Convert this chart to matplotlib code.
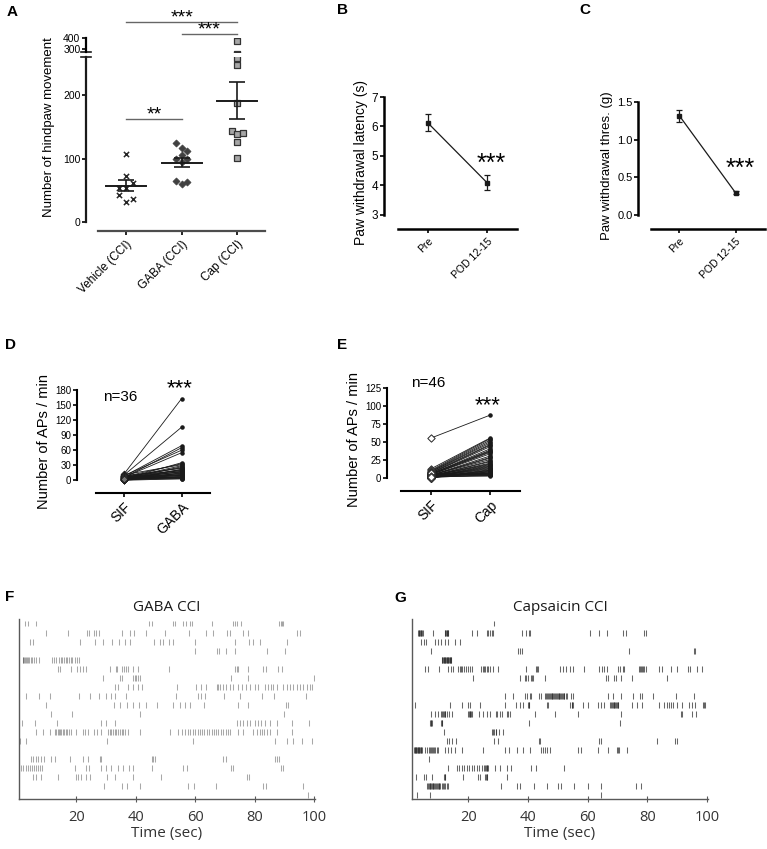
import numpy as np
import matplotlib
matplotlib.use('Agg')
import matplotlib.pyplot as plt

W, H = 767, 849
plt.rcParams['font.family'] = ['Liberation Sans', 'DejaVu Sans']

# ---- panel A: hindpaw movement (broken y axis) ----
a_groups = ['Vehicle (CCI)', 'GABA (CCI)', 'Cap (CCI)']
a_vehicle = [108, 73, 54, 53, 61, 42, 37, 31]
a_gaba = [124, 117, 112, 105, 99, 99, 94, 64, 60, 63]
a_cap = [375, 258, 248, 187, 144, 138, 141, 126, 101]
# horizontal spread of the scatter (category units)
a_vehicle_dx = [0, 0, -0.13, 0, 0.13, -0.13, 0.13, 0]
a_gaba_dx = [-0.11, 0, 0.1, 0, -0.1, 0.1, 0, -0.1, 0, 0.1]
a_cap_dx = [0, 0, 0, 0, -0.1, 0, 0.1, 0, 0]

# ---- panels B, C: behaviour before / after CCI ----
bc_labels = ['Pre', 'POD 12-15']
b_mean = [6.13, 4.08]
b_sem = [0.30, 0.25]
c_mean = [1.32, 0.29]
c_sem = [0.08, 0.02]

# ---- panels D, E: paired AP counts ----
d_labels = ['SIF', 'GABA']
d_sif = [12, 10, 8, 5, 9, 6, 3, 7, 11, 4, 2, 6, 8, 1, 5, 3, 9, 2,
         4, 7, 0, 3, 6, 1, 5, 2, 8, 4, 0, 2, 6, 1, 3, 5, 0, 2]
d_gaba = [163, 106, 69, 65, 60, 55, 35, 33, 31, 29, 27, 25, 24, 22, 21, 20, 19, 18,
          17, 16, 15, 14, 13, 12, 11, 10, 9, 9, 8, 7, 6, 5, 5, 4, 3, 3]
e_labels = ['SIF', 'Cap']
e_sif = [55, 12, 10, 9, 8, 8, 7, 6, 6, 5, 5, 5, 4, 4, 4, 3, 3, 3, 3, 2, 2, 2, 2,
         2, 1, 1, 1, 1, 1, 1, 0, 0, 0, 0, 0, 0, 0, 2, 3, 4, 1, 0, 5, 6, 2, 1]
e_cap = [87, 55, 54, 52, 50, 48, 46, 45, 43, 40, 38, 37, 36, 35, 33, 30, 28, 27, 25,
         23, 22, 20, 19, 18, 17, 16, 15, 14, 13, 12, 11, 10, 10, 9, 8, 8, 7, 6, 6,
         5, 5, 4, 4, 3, 3, 2]

# ---- panels F, G: spike rasters (seconds), one list per unit, top to bottom ----
f_trains = [
    [2.6, 3.7, 6.5, 44.5, 45.3, 52.4, 53.1, 56, 56.9, 58.4, 58.8, 65.5, 72.8, 73.4, 74.2, 75.3, 88.3, 88.8, 89.3, 89.7],
    [9.7, 17.2, 23.6, 24.3, 25.8, 26.7, 27.5, 35.2, 38, 39.4, 43.6, 49.8, 58, 63.5, 66, 70.6, 71.7, 76, 77.9, 94.2, 95.3],
    [4.5, 5.4, 21.1, 26.2, 28.8, 32, 34.3, 36.5, 38, 46, 48.3, 49.2, 51.2, 52.4, 59.9, 73.4, 78.2, 79.6, 81.8, 90.8],
    [59.9, 67.2, 68.1, 70.3, 73.4, 84, 90.2],
    [1.9, 2.2, 2.5, 2.8, 3.1, 3.4, 3.7, 4.1, 4.6, 5.1, 5.7, 6.4, 7.5, 11.8, 12.5, 13.3, 14.0, 14.8, 15.3,
     15.9, 16.4, 17.0, 17.5, 18.1, 18.7, 19.4, 20.2, 21.0],
    [13.8, 14.6, 18.3, 20.2, 21.1, 22.2, 23.1, 31.2, 33.3, 33.8, 35.2, 36, 36.6, 37.4, 38.9, 40.8, 51.2,
     73.4, 73.9, 74.5, 77.9, 82.9, 83.7, 88, 89.1],
    [28.8, 34.6, 35.2, 39.1, 39.7, 40.2, 40.8, 41.3, 72.2, 77.9, 99.8],
    [32.9, 34, 37.4, 39.1, 40.8, 42.2, 53.7, 60.4, 62.1, 63.6, 67.2, 67.8, 68.3, 69.4, 70.3, 71.7, 72.8,
     74.5, 75.6, 77.1, 78.4, 80.1, 81.2, 83.5, 84.6, 85.4, 86.3, 87.4, 89.4, 90.8, 91.9, 93, 94.2, 95.3,
     96.4, 97.5, 98.7, 99.2],
    [3.1, 7.4, 11, 20.8, 24.7, 27.6, 30.1, 31.8, 32.9, 36.6, 53.5, 61, 61.9, 63.3, 69.8, 75.1, 82.4, 86.5, 97.3],
    [9.9, 32.7, 34.6, 36.9, 38.9, 41.1, 43.6, 47, 52.6, 54.8, 56.5, 58.2, 62.9, 74.5, 77.9, 90.6, 91.3],
    [11.6, 18.7, 41.3, 89.9],
    [1.8, 6, 13.5, 28.4, 29.9, 32.9, 73.9, 75, 76.2, 77.3, 78.4, 80.1, 81.2, 82, 83.5, 85.2, 87.6, 92.5, 98.4],
    [6.3, 8.8, 11, 12.7, 13.2, 13.7, 14.1, 14.6, 15, 15.5, 16, 16.5, 17, 17.6, 18.3, 20, 22.2, 23, 24, 26,
     27.1, 28.4, 30.7, 31.3, 31.8, 32.4, 32.9, 33.5, 34, 34.6, 35.2, 35.8, 36.5, 37.4, 41.3, 51.5, 54.3,
     55.5, 56.5, 57.5, 58.4, 59.2, 60, 60.8, 61.6, 62.4, 63.1, 63.9, 64.7, 65.5, 66.3, 67, 67.8, 68.6,
     69.4, 70.3, 71.1, 71.7, 74.5, 76.2, 79.6, 80.7, 81.8, 82.6, 83.3, 84, 85.3, 87.4, 92.5],
    [1.1, 2.9, 30.3, 59.3, 86.9, 91, 93, 95.8, 99.2],
    [],
    [4.8, 5.4, 6.3, 7.1, 8.2, 9, 11.6, 12.7, 17.8, 22.2, 23.9, 27.9, 28.4, 45.3, 45.8, 46.6, 69.4, 70.2,
     86.9, 87.6, 88.3],
    [1.5, 2.2, 2.9, 3.6, 4.3, 5, 5.6, 6.3, 7, 7.7, 8.5, 19.4, 23.1, 24.3, 28.2, 29.9, 31.8, 34, 35.7, 37.8,
     39.1, 45.3, 56, 57.3, 71.9, 72.6, 88.9, 89.7],
    [5.4, 6.5, 8.2, 13.8, 19.8, 20.6, 21.7, 23.1, 24.5, 30.3, 32.9, 39.1, 48.4, 77.3, 78.2],
    [29.2, 35.2, 36.9, 41.3, 57.6, 59.6, 67, 82.9, 83.7, 96.2],
    [97.8],
]
g_trains = [
    [28.7],
    [3.1, 3.4, 3.6, 3.8, 4.0, 4.2, 4.4, 4.7, 8.1, 12.0, 12.2, 12.4, 12.7, 12.9, 13.1, 13.3, 21.3, 22.8,
     26.1, 26.7, 27.3, 27.9, 28.3, 38, 39.4, 40.4, 40.6, 60.9, 63.9, 66.4, 71.7, 72.8, 78.9, 79.4],
    [4.2, 5, 5.9, 8.7, 9.8, 10.9, 12, 13.3, 15.6, 17.2],
    [7.6, 36.7, 37.2, 37.8, 73.9, 95.6, 96.1],
    [11.1, 11.3, 11.5, 11.7, 11.9, 12.1, 12.3, 12.5, 12.7, 12.9, 13.1, 13.3, 13.5, 13.7, 13.9, 14.1, 14.3],
    [5.6, 6.4, 10, 13.3, 14.1, 15, 16.4, 17.2, 17.5, 17.8, 18.4, 19.2, 20, 20.6, 21.3, 24.2, 25, 25.3, 25.6,
     26.1, 26.7, 27.3, 28.3, 29.8, 39.4, 42.8, 43.1, 43.3, 50.6, 51.7, 52.8, 53.9, 55, 58.6, 63.9, 64.7,
     65.6, 66.4, 70, 70.8, 71.7, 72.2, 77.2, 77.5, 77.8, 78.3, 78.6, 78.9, 79.4, 83.9, 85, 87.8, 90,
     93.6, 94.2, 96.7, 98.3],
    [21.7, 37.2, 38.9, 39.4, 40, 41.1, 41.4, 41.7, 45.8, 66.1, 66.7, 68.7, 69.4, 71.1, 74.7, 86.4],
    [],
    [32.2, 35, 38.9, 39.7, 40.6, 41.1, 43.6, 44.4, 45.8, 46.1, 46.4, 46.7, 47, 47.3, 47.6, 47.9, 48.1,
     48.4, 48.7, 49, 49.3, 49.6, 49.9, 50.2, 50.4, 50.7, 51, 51.3, 51.6, 51.9, 52.2, 52.6, 53.1, 54.4,
     55.2, 66.9, 68.3, 71.3, 75, 77.6, 78.3, 82, 89.7, 95.6],
    [2.2, 13.9, 18, 19.8, 20.6, 23.9, 32.2, 36.1, 37.2, 38.3, 40.0, 40.2, 40.4, 46.4, 46.6, 53.9, 54.6,
     54.8, 55, 58.3, 60, 63.3, 64.4, 65.3, 67.6, 67.9, 68.1, 68.4, 68.7, 68.9, 69.2, 69.5, 69.7, 70, 70.3,
     74.7, 76.4, 78.3, 83.9, 85.6, 86.7, 87.2, 87.8, 88.7, 90, 91.7, 93.9, 95, 96.1, 98.6, 98.9, 99.2],
    [7.6, 8.9, 9.8, 10.9, 11.2, 11.5, 11.8, 12, 12.3, 12.8, 13.6, 14.4, 20, 20.2, 20.4, 20.6, 20.8, 21.3,
     23.6, 25, 26.1, 27.2, 29.4, 29.7, 30.6, 31.1, 33.1, 33.4, 33.9, 42.4, 48.9, 56.7, 71.3, 91.3, 91.5,
     95, 96.3],
    [7.1, 7.3, 7.5, 7.8, 10.9, 11.1, 11.3, 40.2, 70.9],
    [11.7, 28, 28.4, 28.7, 29.1, 29.4, 30.2, 31.7],
    [12.8, 13.6, 14.4, 15.8, 28.7, 30, 43.6, 44.1, 63.9, 64.4, 83.1, 89.4, 90],
    [1.8, 2.0, 2.2, 2.4, 2.6, 2.8, 3.0, 3.2, 3.4, 3.6, 3.8, 4.0, 4.2, 4.4, 5.6, 6.1, 6.7, 7.2, 7.5, 7.8,
     8.3, 8.6, 8.9, 9.4, 9.8, 12.2, 13.1, 14.2, 15.6, 17.8, 25, 32.2, 33.6, 36.4, 38.3, 40.6, 44.4, 45,
     45.6, 46.4, 47.2, 56.7, 57.6, 63.3, 66.7, 69.8, 70.2, 70.6, 73.1],
    [6.9],
    [13.3, 16.1, 16.9, 17.8, 18.6, 19.4, 20.3, 21.1, 21.9, 22.8, 23.6, 24.4, 25.3, 25.6, 25.9, 26.1, 26.4,
     26.7, 28.9, 30.6, 32.8, 34.2, 41.1, 42.8, 52.2],
    [2.4, 5, 5.8, 7.8, 11.8, 12, 12.2, 18.3, 23.1, 23.9, 25.6, 25.8, 26.1, 26.3, 32.8],
    [6.1, 6.4, 6.7, 7.0, 7.2, 7.5, 7.8, 8.1, 8.3, 8.6, 8.9, 9.2, 9.4, 9.7, 10, 10.3, 10.6, 11.1, 11.4,
     11.7, 12.2, 12.8, 13.3, 30.9, 36.4, 37.2, 42, 46.4, 50, 50.9, 55.3, 60.2, 64.4, 76.1, 77.8],
    [2.8, 7, 64.4],
]

fig = plt.figure(figsize=(W / 100, H / 100), dpi=100)


def px_axes(x0, y0, x1, y1):
    # axes placed by pixel box (left, top, right, bottom)
    return fig.add_axes([x0 / W, 1 - y1 / H, (x1 - x0) / W, (y1 - y0) / H])


def prism(ax, ybounds, xbounds, lw=1.8):
    for s in ['top', 'right']:
        ax.spines[s].set_visible(False)
    ax.spines['left'].set_bounds(*ybounds)
    ax.spines['bottom'].set_bounds(*xbounds)
    ax.spines['left'].set_linewidth(lw)
    ax.spines['bottom'].set_linewidth(lw)
    ax.tick_params(axis='y', direction='out', length=3, width=1.2, pad=1)
    ax.tick_params(axis='x', direction='out', length=3, width=1.2, pad=2)
    ax.patch.set_alpha(0)


def stars(ax, x, y, s, size, dy=0):
    ax.annotate(s, (x, y), xytext=(0, dy), textcoords='offset points',
                ha='center', va='center', fontsize=size, annotation_clip=False)


# ================= A =================
axA = px_axes(86, 57, 265, 231)
axA2 = px_axes(86, 38, 265, 52)
for ax in (axA, axA2):
    ax.scatter(np.array(a_vehicle_dx) + 0, a_vehicle, marker='x', s=14, color='0.15', lw=1.1, clip_on=True)
    ax.scatter(np.array(a_gaba_dx) + 1, a_gaba, marker='D', s=13, color='0.25', lw=0.5, clip_on=True)
    ax.scatter(np.array(a_cap_dx) + 2, a_cap, marker='s', s=13, facecolor='0.65', edgecolor='0.2', lw=0.9, clip_on=True)
    for i, vals in enumerate([a_vehicle, a_gaba, a_cap]):
        m = np.mean(vals)
        se = np.std(vals, ddof=1) / np.sqrt(len(vals))
        ax.plot([i - 0.36, i + 0.36], [m, m], color='0.1', lw=1.4)
        ax.errorbar(i, m, yerr=se, color='0.1', lw=1.2, capsize=6, capthick=1.2)
    ax.set_xlim(-0.72, 2.5)

axA.set_ylim(-14, 260)
axA2.set_ylim(273, 400)
prism(axA, (0, 260), (-0.5, 2.5), lw=1.6)
axA.spines['left'].set_color('0.1')
axA.spines['bottom'].set_color('0.3')
axA.set_yticks([0, 100, 200])
axA.set_xticks([0, 1, 2])
axA.set_xticklabels(a_groups, rotation=45, ha='right', rotation_mode='anchor', fontsize=8.5)
axA.tick_params(axis='y', labelsize=7.5)
for s in ['top', 'right', 'bottom']:
    axA2.spines[s].set_visible(False)
axA2.spines['left'].set_linewidth(1.6)
axA2.spines['left'].set_bounds(277, 400)
axA2.set_xticks([])
axA2.set_yticks([300, 400])
axA2.tick_params(axis='y', direction='out', length=3, width=1.2, pad=1, labelsize=7.5)
axA2.patch.set_alpha(0)
# axis break marks
for ax, yy in ((axA, 1.0), (axA2, 0.0)):
    ax.plot([-0.03, 0.03], [yy, yy], transform=ax.transAxes, color='0.1', lw=1.2, clip_on=False)
axA.set_ylabel('Number of hindpaw movement', fontsize=9.5, labelpad=4)
axA.yaxis.set_label_coords(-0.175, 0.6)

# significance bars
axA.plot([0, 1], [162, 162], color='0.4', lw=1, clip_on=False)
stars(axA, 0.5, 162, '**', 14, 3)
axA2.plot([1, 2], [436, 436], color='0.4', lw=1, clip_on=False)
stars(axA2, 1.5, 436, '***', 14, 3)
axA2.plot([0, 2], [548, 548], color='0.4', lw=1, clip_on=False)
stars(axA2, 1.0, 548, '***', 14, 3)

# ================= B =================
axB = px_axes(384, 97, 517, 229)
axB.errorbar([0, 1], b_mean, yerr=b_sem, color='0.1', lw=0.9, capsize=2.5, capthick=0.9,
             marker='s', ms=2.5)
axB.set_xlim(-0.73, 1.5)
axB.set_ylim(2.51, 7)
prism(axB, (3, 7), (-0.5, 1.5))
axB.set_yticks([3, 4, 5, 6, 7])
axB.tick_params(axis='y', labelsize=8.5)
axB.set_xticks([0, 1])
axB.set_xticklabels(bc_labels, rotation=45, ha='right', rotation_mode='anchor', fontsize=7.5)
axB.set_ylabel('Paw withdrawal latency (s)', fontsize=10, labelpad=3)
stars(axB, 1.07, 4.81, '***', 18, -2)

# ================= C =================
axC = px_axes(638, 102, 765, 229)
axC.errorbar([0, 1], c_mean, yerr=c_sem, color='0.1', lw=0.9, capsize=2.5, capthick=0.9,
             marker='s', ms=2.5)
axC.set_xlim(-0.73, 1.52)
axC.set_ylim(-0.19, 1.5)
prism(axC, (0, 1.5), (-0.5, 1.52))
axC.set_yticks([0, 0.5, 1.0, 1.5])
axC.set_yticklabels(['0.0', '0.5', '1.0', '1.5'])
axC.tick_params(axis='y', labelsize=8)
axC.set_xticks([0, 1])
axC.set_xticklabels(bc_labels, rotation=45, ha='right', rotation_mode='anchor', fontsize=7.5)
axC.set_ylabel('Paw withdrawal thres. (g)', fontsize=9.5, labelpad=3)
stars(axC, 1.08, 0.65, '***', 18, -2)

# ================= D =================
axD = px_axes(77, 390, 210, 493)
for s0, s1 in zip(d_sif, d_gaba):
    axD.plot([0, 1], [s0, s1], color='0.1', lw=0.6)
axD.scatter(np.zeros(len(d_sif)), d_sif, marker='D', s=12, facecolor='0.45', edgecolor='0.1', lw=0.6, zorder=3, clip_on=False)
axD.scatter(np.ones(len(d_gaba)), d_gaba, marker='o', s=5, color='0.1', zorder=3, clip_on=False)
axD.set_xlim(-0.81, 1.49)
axD.set_ylim(-25.4, 180)
prism(axD, (0, 180), (-0.49, 1.49), lw=1.5)
axD.set_yticks(np.arange(0, 181, 30))
axD.tick_params(axis='y', labelsize=7)
axD.set_xticks([0, 1])
axD.set_xticklabels(d_labels, rotation=45, ha='right', rotation_mode='anchor', fontsize=10)
axD.set_ylabel('Number of APs / min', fontsize=10.5, labelpad=3)
axD.text(-0.07, 167, 'n=36', fontsize=11, ha='center', va='center')
stars(axD, 0.97, 188, '***', 16, -2)

# ================= E =================
axE = px_axes(387, 388, 520, 491)
for s0, s1 in zip(e_sif, e_cap):
    axE.plot([0, 1], [s0, s1], color='0.1', lw=0.6)
axE.scatter(np.zeros(len(e_sif)), e_sif, marker='D', s=14, facecolor='white', edgecolor='0.15', lw=0.7, zorder=3, clip_on=False)
axE.scatter(np.ones(len(e_cap)), e_cap, marker='o', s=5, color='0.1', zorder=3, clip_on=False)
axE.set_xlim(-0.74, 1.51)
axE.set_ylim(-18.8, 125)
prism(axE, (0, 125), (-0.51, 1.51), lw=1.5)
axE.set_yticks(np.arange(0, 126, 25))
axE.tick_params(axis='y', labelsize=7)
axE.set_xticks([0, 1])
axE.set_xticklabels(e_labels, rotation=45, ha='right', rotation_mode='anchor', fontsize=10)
axE.set_ylabel('Number of APs / min', fontsize=10.5, labelpad=3)
axE.text(-0.05, 132, 'n=46', fontsize=11, ha='center', va='center')
stars(axE, 0.97, 104, '***', 16, -2)

# ================= F, G rasters =================
raster_font = ['Open Sans', 'DejaVu Sans']
for box, trains, title, alpha, xlo in (((19, 619, 315, 799), f_trains, 'GABA CCI', 0.4, 0.7),
                                       ((412, 619, 708, 799), g_trains, 'Capsaicin CCI', 0.7, 1.1)):
    ax = px_axes(*box)
    ax.eventplot(trains, lineoffsets=np.arange(1, len(trains) + 1), linelengths=0.65,
                 linewidths=0.75, colors=[(0.15, 0.15, 0.15, alpha)] * len(trains))
    ax.set_xlim(xlo, 100.3)
    ax.set_ylim(20.4, 0.5)
    ax.set_yticks([])
    ax.set_xticks([20, 40, 60, 80, 100])
    for s in ['top', 'right']:
        ax.spines[s].set_visible(False)
    for s in ['left', 'bottom']:
        ax.spines[s].set_color('0.35')
        ax.spines[s].set_linewidth(1)
    ax.tick_params(axis='x', direction='inout', length=4, width=0.8, color='0.35', pad=6)
    for lab in ax.get_xticklabels():
        lab.set_family(raster_font)
        lab.set_fontsize(10.5)
        lab.set_color('0.2')
    ax.set_xlabel('Time (sec)', family=raster_font, fontsize=11, color='0.2', labelpad=1)
    ax.set_title(title, family=raster_font, fontsize=11, color='0.1', pad=6)

# panel letters
for lab, x, y in (('A', 12, 12), ('B', 342, 10), ('C', 585, 10), ('D', 10, 345),
                  ('E', 342, 345), ('F', 10, 597), ('G', 400, 598)):
    fig.text(x / W, 1 - y / H, lab, fontsize=11, fontweight='bold', ha='center', va='center')

fig.savefig('out.png', dpi=100)
